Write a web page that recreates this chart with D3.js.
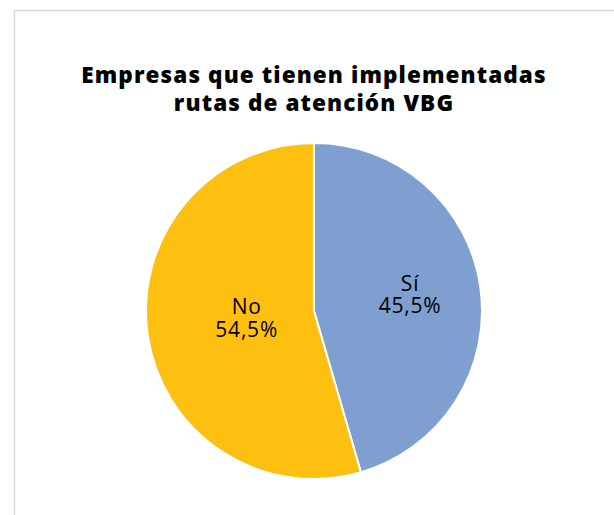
<!DOCTYPE html>
<html>
<head>
<meta charset="utf-8">
<script src="https://cdn.jsdelivr.net/npm/d3@7"></script>
<style>
  body { margin: 0; background: #fff; }
</style>
</head>
<body>
<div id="pie_chart"></div>
<script>
// data
var categories = ['Sí', 'No'];
var values = [45.5, 54.5];
var valueLabels = ['45,5%', '54,5%'];
var titleLines = ['Empresas que tienen implementadas', 'rutas de atención VBG'];

// dimensions
var width = 614, height = 515,
    cx = 314, cy = 311, radius = 168;

var svg = d3.select('#pie_chart')
  .append('svg')
  .attr('width', width)
  .attr('height', height);

// chart frame
svg.append('rect')
  .attr('x', 14.5)
  .attr('y', 10.5)
  .attr('width', 620)
  .attr('height', 540)
  .style('fill', '#fff')
  .style('stroke', '#d9d9d9')
  .style('stroke-width', 1.5);

// title
svg.append('text')
  .attr('x', 314)
  .attr('y', 83)
  .attr('text-anchor', 'middle')
  .style('font-family', 'Open Sans')
  .style('font-weight', 800)
  .style('font-size', '22.5px')
  .style('letter-spacing', '1.1px')
  .selectAll('tspan')
  .data(titleLines)
  .enter()
  .append('tspan')
  .attr('x', 314)
  .attr('dy', function(d, i) { return i ? 28 : 0; })
  .text(function(d) { return d; });

var color = d3.scaleOrdinal()
  .domain(categories)
  .range(['#7f9fd0', '#fdc010']);

var pie = d3.pie()
  .sort(null)
  .value(function(d) { return d.value; });

var data = categories.map(function(c, i) {
  return { group: c, value: values[i], label: valueLabels[i] };
});

var g = svg.append('g')
  .attr('transform', 'translate(' + cx + ',' + cy + ')');

var arc = d3.arc().innerRadius(0).outerRadius(radius);

g.selectAll('path')
  .data(pie(data))
  .enter()
  .append('path')
  .attr('d', arc)
  .attr('fill', function(d) { return color(d.data.group); })
  .style('stroke', '#fff')
  .style('stroke-width', 2);

// labels sit where Excel's best fit put them
var labelRadius = [97, 68];
g.selectAll('text.lbl')
  .data(pie(data))
  .enter()
  .append('text')
  .attr('class', 'lbl')
  .attr('transform', function(d, i) {
    var a = (d.startAngle + d.endAngle) / 2;
    return 'translate(' + (labelRadius[i] * Math.sin(a)) + ',' + (-labelRadius[i] * Math.cos(a) - 4) + ')';
  })
  .attr('text-anchor', 'middle')
  .style('font-family', 'Open Sans')
  .style('font-size', '21px')
  .style('letter-spacing', '0.8px')
  .style('fill', '#000')
  .each(function(d) {
    var t = d3.select(this);
    t.append('tspan').attr('x', 0).attr('dy', '-0.1em').text(d.data.group);
    t.append('tspan').attr('x', 0).attr('dy', '1.05em').text(d.data.label);
  });
</script>
</body>
</html>
